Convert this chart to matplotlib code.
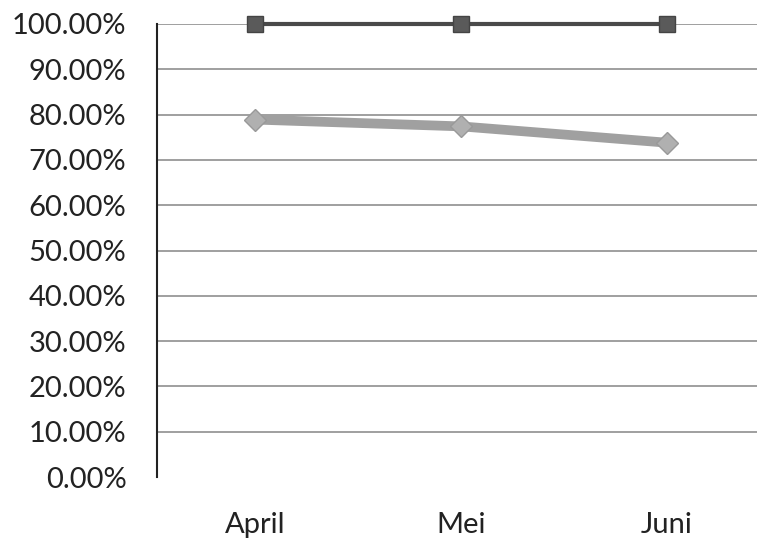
import matplotlib.pyplot as plt
from matplotlib.ticker import FuncFormatter

months = ["April", "Mei", "Juni"]
target = [1.00, 1.00, 1.00]
realisasi = [0.789, 0.774, 0.738]
y_ticks = [i / 10 for i in range(11)]

plt.rcParams['font.family'] = ['Lato', 'DejaVu Sans']

fig = plt.figure(figsize=(7.57, 5.42), dpi=100)
ax = fig.add_axes([157 / 757, 1 - 477 / 542, 1 - 157 / 757, (477 - 24) / 542])

x = range(len(months))

# gridlines (none at 0%)
ax.set_yticks(y_ticks)
ax.yaxis.grid(True, color='#8f8f8f', linewidth=1.2)
ax.yaxis.get_gridlines()[0].set_visible(False)
ax.set_axisbelow(True)

ax.plot(x, target, color='#4a4a4a', linewidth=3, marker='s', markersize=12,
        markerfacecolor='#5a5a5a', markeredgecolor='#444444', clip_on=False, zorder=3)
ax.plot(x, realisasi, color='#a0a0a0', linewidth=7, marker='D', markersize=11,
        markerfacecolor='#b0b0b0', markeredgecolor='#999999', clip_on=False, zorder=3)

ax.set_xlim(-0.476, 2.437)
ax.set_ylim(0, 1)
ax.set_xticks(list(x))
ax.set_xticklabels(months)
ax.yaxis.set_major_formatter(FuncFormatter(lambda v, p: f"{v * 100:.2f}%"))

for s in ['top', 'right', 'bottom']:
    ax.spines[s].set_visible(False)
ax.spines['left'].set_color('#222222')
ax.spines['left'].set_linewidth(1.5)

ax.tick_params(axis='y', length=0, pad=22, labelsize=21, labelcolor='#222222')
ax.tick_params(axis='x', length=0, pad=25, labelsize=21, labelcolor='#222222')

fig.savefig('out.png', dpi=100)
